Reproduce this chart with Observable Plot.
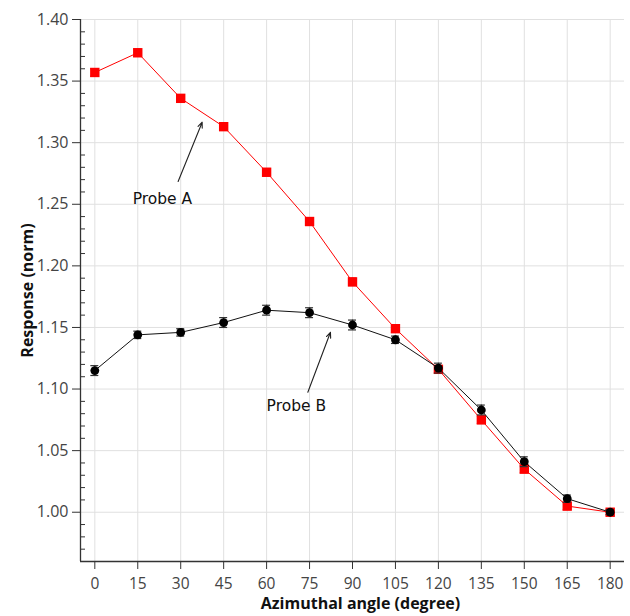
<!DOCTYPE html>
<html>
<head>
<meta charset="utf-8">
<script src="https://cdn.jsdelivr.net/npm/d3@7"></script>
<script src="https://cdn.jsdelivr.net/npm/@observablehq/plot@0.6"></script>
<style>
  html, body { margin: 0; padding: 0; background: #fff; }
  #chart { width: 630px; height: 616px; }
</style>
</head>
<body>
<div id="chart"></div>
<script>
// ---- data ----
const angles = [0, 15, 30, 45, 60, 75, 90, 105, 120, 135, 150, 165, 180];
const probeA = [1.357, 1.373, 1.336, 1.313, 1.276, 1.236, 1.187, 1.149, 1.116, 1.075, 1.035, 1.005, 1.000];
const errA   = [0.003, 0.003, 0.003, 0.003, 0.003, 0.003, 0.003, 0.003, 0.003, 0.003, 0.003, 0.003, 0.002];
const probeB = [1.115, 1.144, 1.146, 1.154, 1.164, 1.162, 1.152, 1.140, 1.117, 1.083, 1.041, 1.011, 1.000];
const errB   = [0.004, 0.003, 0.003, 0.004, 0.004, 0.004, 0.004, 0.003, 0.004, 0.004, 0.004, 0.003, 0.002];
const yTicks = [1.00, 1.05, 1.10, 1.15, 1.20, 1.25, 1.30, 1.35, 1.40];
const yMinor = d3.range(96, 141).map(v => v / 100).filter(v => Math.round(v * 100) % 5 !== 0);
const xLabel = "Azimuthal angle (degree)";
const yLabel = "Response (norm)";
const labels = [
  {name: "Probe A", tx: 23.6, ty: 1.254, x1: 29.1, y1: 1.2685, x2: 37.5, y2: 1.3166},
  {name: "Probe B", tx: 70.4, ty: 1.086, x1: 74.4, y1: 1.0974, x2: 82.3, y2: 1.1461}
];

const dataA = angles.map((x, i) => ({x, y: probeA[i], e: errA[i]}));
const dataB = angles.map((x, i) => ({x, y: probeB[i], e: errB[i]}));

function errMarks(data, color) {
  return [
    Plot.ruleX(data, {x: "x", y1: d => d.y - d.e, y2: d => d.y + d.e, stroke: color, strokeWidth: 1.2}),
    Plot.ruleY(data, {y: d => d.y + d.e, x1: "x", x2: "x", insetLeft: -4, insetRight: -4, stroke: color, strokeWidth: 1.2}),
    Plot.ruleY(data, {y: d => d.y - d.e, x1: "x", x2: "x", insetLeft: -4, insetRight: -4, stroke: color, strokeWidth: 1.2})
  ];
}

const chart = Plot.plot({
  width: 630,
  height: 616,
  marginLeft: 80,
  marginRight: 6,
  marginTop: 19,
  marginBottom: 55,
  style: {fontFamily: "'Open Sans', sans-serif", fontSize: "16px", color: "#333", background: "#fff"},
  x: {domain: [-5, 185]},
  y: {domain: [0.96, 1.40]},
  marks: [
    Plot.gridX(angles, {stroke: "#e0e0e0", strokeOpacity: 1}),
    Plot.gridY(yTicks, {stroke: "#e0e0e0", strokeOpacity: 1}),
    Plot.axisX(angles, {tickSize: 8, tickPadding: 8, label: null, stroke: "#333", fill: "#444", fontSize: 15.5}),
    Plot.axisY(yTicks, {tickSize: 8, tickPadding: 4, label: null, tickFormat: d => d.toFixed(2), stroke: "#333", fill: "#444", fontSize: 16}),
    Plot.axisY(yMinor, {tickSize: 5, dx: 5, label: null, tickFormat: () => "", stroke: "#333"}),
    Plot.ruleX([-5], {stroke: "#333", strokeWidth: 1.3}),
    Plot.ruleY([0.96], {stroke: "#333", strokeWidth: 1.3}),
    Plot.line(dataA, {x: "x", y: "y", stroke: "#ff0000", strokeWidth: 1}),
    ...errMarks(dataA, "#ff0000"),
    Plot.dot(dataA, {x: "x", y: "y", symbol: "square", r: 5.3, fill: "#ff0000"}),
    Plot.line(dataB, {x: "x", y: "y", stroke: "#111", strokeWidth: 1}),
    ...errMarks(dataB, "#333"),
    Plot.dot(dataB, {x: "x", y: "y", r: 4.4, fill: "#000"}),
    Plot.arrow(labels, {x1: "x1", y1: "y1", x2: "x2", y2: "y2", stroke: "#222", strokeWidth: 1.1, headLength: 8, headAngle: 45}),
    Plot.text(labels, {x: "tx", y: "ty", text: "name", fontFamily: "'DejaVu Sans', sans-serif", fontSize: 15.5, fill: "#111"}),
    Plot.text([xLabel], {text: d => d, frameAnchor: "bottom", textAnchor: "middle", dy: 47, dx: 8, fontWeight: "bold", fontSize: 16, fill: "#111"}),
    Plot.text([yLabel], {text: d => d, frameAnchor: "left", textAnchor: "middle", rotate: -90, dx: -53, fontWeight: "bold", fontSize: 16, fill: "#111"})
  ]
});
document.getElementById("chart").appendChild(chart);
</script>
</body>
</html>
